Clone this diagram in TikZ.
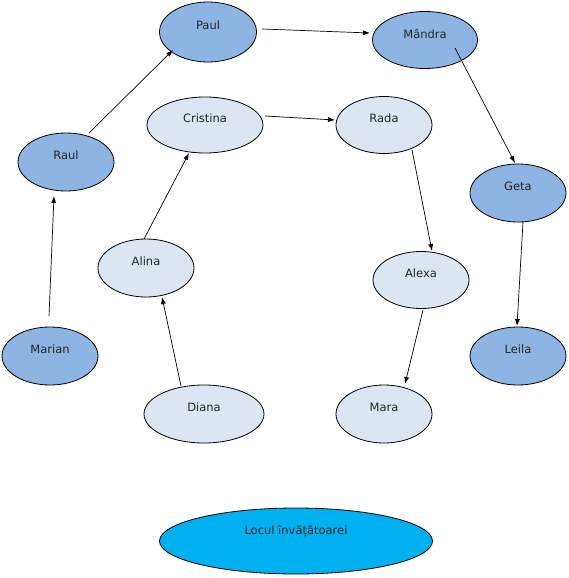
\documentclass[tikz,border=0pt]{standalone}
\usepackage{fontspec}
\setmainfont{DejaVu Sans}
\usetikzlibrary{shapes.geometric,arrows.meta}
\definecolor{darkfill}{HTML}{8EB4E3}
\definecolor{lightfill}{HTML}{DCE6F2}
\definecolor{cyanfill}{HTML}{00B0F0}
\tikzset{
  ell/.style={ellipse, draw=black, line width=0.8pt, inner sep=0pt, minimum width=96pt, minimum height=58pt},
  dark/.style={ell, fill=darkfill},
  light/.style={ell, fill=lightfill},
  lab/.style={font=\fontsize{11.5}{13}\selectfont, text=black!85, yshift=6.5pt, inner sep=0pt},
  arr/.style={line width=0.7pt, -{Latex[length=7pt,width=5pt]}}
}
\begin{document}
\begin{tikzpicture}[x=1pt,y=-1pt]
\useasboundingbox (0,0) rectangle (569,578);
% dark nodes
\node[dark, minimum width=97pt, minimum height=60pt, label={[lab]center:Paul}] (paul) at (208,32) {};
\node[dark, minimum width=105pt, minimum height=57pt, label={[lab]center:Mândra}] (mandra) at (425,40) {};
\node[dark, label={[lab]center:Raul}] (raul) at (66,162) {};
\node[dark, label={[lab]center:Geta}] (geta) at (518,193) {};
\node[dark, label={[lab]center:Marian}] (marian) at (50,356) {};
\node[dark, label={[lab]center:Leila}] (leila) at (518,356) {};
% light nodes
\node[light, minimum width=116pt, minimum height=56pt, label={[lab]center:Cristina}] (cristina) at (205,125) {};
\node[light, minimum height=57pt, label={[lab]center:Rada}] (rada) at (384,125) {};
\node[light, label={[lab]center:Alina}] (alina) at (146,268) {};
\node[light, minimum height=57pt, label={[lab]center:Alexa}] (alexa) at (421,280) {};
\node[light, minimum width=120pt, label={[lab]center:Diana}] (diana) at (204,414) {};
\node[light, label={[lab]center:Mara}] (mara) at (384,414) {};
% teacher
\node[ell, fill=cyanfill, minimum width=273pt, minimum height=66pt, label={[lab, yshift=3pt]center:Locul învăţătoarei}] (locul) at (296,541) {};
% arrows
\draw[arr] ([shift={(23,-29)}]raul.center) -- ([shift={(-35,18)}]paul.center);
\draw[arr] ([shift={(54,-3)}]paul.center) -- ([shift={(-55,-7)}]mandra.center);
\draw[arr] ([shift={(30,8)}]mandra.center) -- ([shift={(-3,-30)}]geta.center);
\draw[arr] ([shift={(5,29)}]geta.center) -- ([shift={(-1,-30)}]leila.center);
\draw[arr] ([shift={(60,-9)}]cristina.center) -- ([shift={(-49,-5)}]rada.center);
\draw[arr] ([shift={(28,25)}]rada.center) -- ([shift={(11,-29)}]alexa.center);
\draw[arr] ([shift={(2,30)}]alexa.center) -- ([shift={(21,-30)}]mara.center);
\draw[arr] ([shift={(-1,-40)}]marian.center) -- ([shift={(-12,34)}]raul.center);
\draw[arr] ([shift={(-2,-29)}]alina.center) -- ([shift={(-16,28)}]cristina.center);
\draw[arr] ([shift={(-23,-28)}]diana.center) -- ([shift={(16,29)}]alina.center);
\end{tikzpicture}
\end{document}
